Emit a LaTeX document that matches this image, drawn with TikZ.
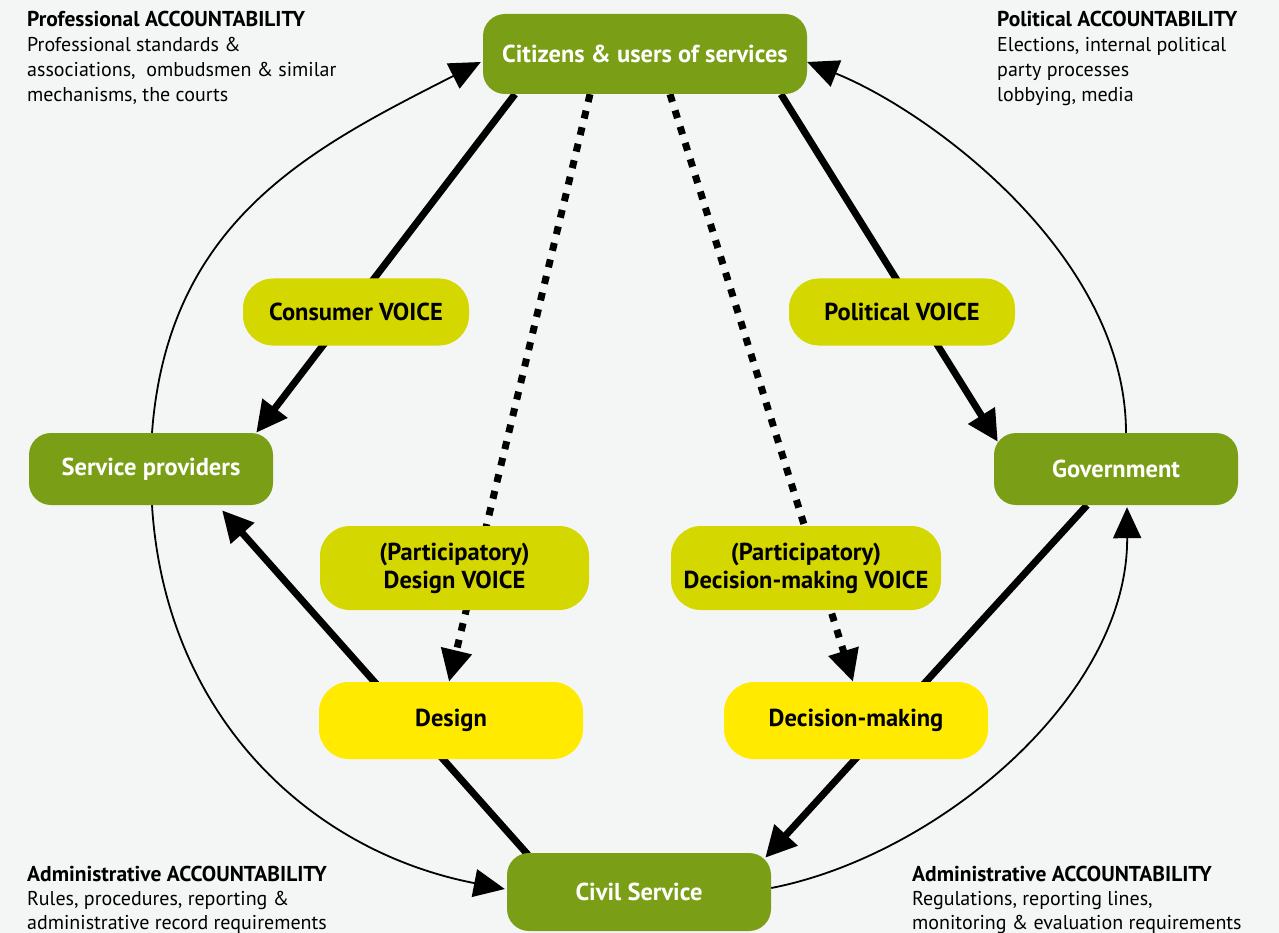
\documentclass[tikz,border=0pt]{standalone}
\usepackage{fontspec}
\setmainfont{PT Sans}
\usetikzlibrary{arrows.meta,calc}
\definecolor{bgc}{HTML}{F4F6F5}
\definecolor{dkgreen}{HTML}{7A9E15}
\definecolor{limey}{HTML}{D4D700}
\definecolor{yel}{HTML}{FFEA00}
\pgfdeclarelayer{bg}
\pgfdeclarelayer{edges}
\pgfsetlayers{bg,edges,main}
\tikzset{
  boxbase/.style={inner sep=0pt, align=center, font=\bfseries\fontsize{24.5}{28}\selectfont},
  greenbox/.style={boxbase, fill=dkgreen, text=white, rounded corners=22pt},
  voicebox/.style={boxbase, fill=limey, text=black, rounded corners=30pt},
  actbox/.style={boxbase, fill=yel, text=black, rounded corners=30pt},
  thickarr/.style={line width=7pt, -{Triangle[length=31pt,width=30pt]}},
  dotarr/.style={line width=7pt, dash pattern=on 8pt off 9pt, -{Triangle[length=32pt,width=30pt]}},
  thinarr/.style={line width=1.8pt, -{Triangle[length=31pt,width=28pt]}},
  cornertxt/.style={anchor=base west, inner sep=0pt, font=\fontsize{20}{25}\selectfont},
  cornerhead/.style={cornertxt, font=\bfseries\fontsize{21.5}{25}\selectfont}
}
\begin{document}
\begin{tikzpicture}[x=1pt,y=-1pt]
\useasboundingbox (0,0) rectangle (1279,933);
\begin{pgfonlayer}{bg}
\fill[bgc] (0,0) rectangle (1279,933);
\end{pgfonlayer}

% main nodes
\node[greenbox, minimum width=324pt, minimum height=80pt] (cit) at (645,54) {Citizens \& users of services};
\node[greenbox, minimum width=244pt, minimum height=72pt] (sp) at (151,469) {Service providers};
\node[greenbox, minimum width=244pt, minimum height=72pt] (gov) at (1116,469) {Government};
\node[greenbox, minimum width=264pt, minimum height=78pt] (cs) at (639,892) {Civil Service};
\node[voicebox, minimum width=226pt, minimum height=67pt] (cv) at (356,312) {Consumer VOICE};
\node[voicebox, minimum width=226pt, minimum height=67pt] (pv) at (902,312) {Political VOICE};
\node[voicebox, minimum width=269pt, minimum height=84pt] (dv) at (454.5,568) {(Participatory)\\Design VOICE};
\node[voicebox, minimum width=270pt, minimum height=84pt] (dmv) at (806,568) {(Participatory)\\Decision-making VOICE};
\node[actbox, minimum width=264pt, minimum height=77pt] (des) at (451,720.5) {Design};
\node[actbox, minimum width=264pt, minimum height=77pt] (dm) at (856,720.5) {Decision-making};

% corner texts
\node[cornerhead] (tl1) at (27,27) {Professional ACCOUNTABILITY};
\node[cornertxt] (tl2) at (27,52) {Professional standards \&};
\node[cornertxt] (tl3) at (27,77) {associations,\ \ ombudsmen \& similar};
\node[cornertxt] (tl4) at (27,102) {mechanisms, the courts};

\node[cornerhead] (tr1) at (997,27) {Political ACCOUNTABILITY};
\node[cornertxt] (tr2) at (997,52) {Elections, internal political};
\node[cornertxt] (tr3) at (997,77) {party processes};
\node[cornertxt] (tr4) at (997,102) {lobbying, media};

\node[cornerhead] (bl1) at (27,881) {Administrative ACCOUNTABILITY};
\node[cornertxt] (bl2) at (27,905.5) {Rules, procedures, reporting \&};
\node[cornertxt] (bl3) at (27,929) {administrative record requirements};

\node[cornerhead] (br1) at (912,881) {Administrative ACCOUNTABILITY};
\node[cornertxt] (br2) at (912,905.5) {Regulations, reporting lines,};
\node[cornertxt] (br3) at (912,929) {monitoring \& evaluation requirements};

\begin{pgfonlayer}{edges}
% thick voice arrows
\draw[thickarr] ([xshift=-130pt]cit.south) -- ([xshift=-17pt]sp.north east);
\draw[thickarr] ([xshift=136pt]cit.south) -- ([xshift=4pt,yshift=-9pt]gov.north west);
\draw[thickarr] ([xshift=-111pt,yshift=-2pt]cs.north) -- ([xshift=71pt,yshift=-5pt]sp.south);
\draw[thickarr] ([xshift=-29pt]gov.south) -- ([xshift=-6pt,yshift=-5pt]cs.north east);
% dotted participatory arrows
\draw[dotarr] ([xshift=-55pt]cit.south) -- ([xshift=-2pt]des.north);
\draw[dotarr] ([xshift=25pt]cit.south) -- ([xshift=-3pt]dm.north);
% thin accountability curves
\draw[thinarr] ([xshift=1pt]sp.north) .. controls +(16,-213) and +(-169,86) .. ([xshift=-2pt,yshift=-8pt]cit.west);
\draw[thinarr] ([xshift=1pt]sp.south) .. controls +(13,210) and +(-196,-38) .. ([xshift=-2pt,yshift=3pt]cs.west);
\draw[thinarr] ([yshift=4pt]cs.east) .. controls +(165,-32) and +(1,190) .. ([xshift=11pt,yshift=-2pt]gov.south);
\draw[thinarr] ([xshift=10pt]gov.north) .. controls +(0,-178) and +(122,49) .. ([yshift=-8pt]cit.east);
\end{pgfonlayer}
\end{tikzpicture}
\end{document}
